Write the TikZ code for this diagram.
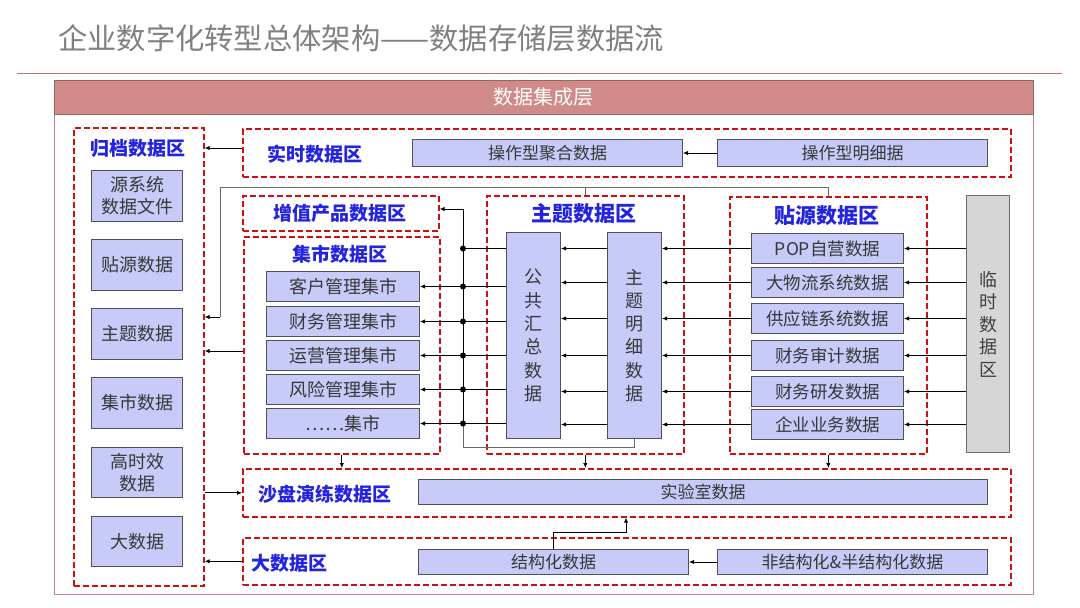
\documentclass[tikz,border=0pt]{standalone}
\usepackage{fontspec}
\setmainfont{Noto Sans CJK SC}
\usetikzlibrary{arrows.meta,calc}
\definecolor{zred}{HTML}{D01010}
\definecolor{zblue}{HTML}{2424E0}
\definecolor{boxfill}{HTML}{C8CBF8}
\definecolor{boxline}{HTML}{50505C}
\definecolor{hdr}{HTML}{D08B88}
\definecolor{hdrline}{HTML}{C97B7D}
\definecolor{ttl}{HTML}{808080}
\definecolor{glc}{HTML}{6A6A6A}
\begin{document}
\begin{tikzpicture}[x=1pt,y=-1pt,
  zone/.style={draw=zred, dash pattern=on 6pt off 3pt, line width=1.7pt, inner sep=0, anchor=north west},
  zonetitle/.style={text=zblue, font=\fontsize{19}{19}\selectfont\bfseries, inner sep=0},
  dbox/.style={draw=boxline, fill=boxfill, line width=1pt, text=black!78, font=\fontsize{17}{17}\selectfont, inner sep=0, anchor=north west},
  abox/.style={dbox, minimum width=91pt, font=\fontsize{18}{22}\selectfont, align=center},
  vbox/.style={dbox, minimum width=54pt, minimum height=206pt, font=\fontsize{18}{23.3}\selectfont, align=center},
  jbox/.style={dbox, minimum width=153pt, minimum height=30pt, font=\fontsize{18}{18}\selectfont},
  tbox/.style={dbox, minimum width=152pt, minimum height=30pt, font=\fontsize{17.5}{17.5}\selectfont},
  arr/.style={-{Latex[length=5pt,width=4.5pt]}, line width=0.9pt, draw=black},
  bline/.style={line width=0.9pt, draw=black},
  gline/.style={line width=0.9pt, draw=glc},
  dot/.style={circle, fill=black, inner sep=0, minimum size=6pt}]
\fill[white] (0,0) rectangle (1080,608);
\useasboundingbox (0,0) rectangle (1080,608);

% title
\node[anchor=west, text=ttl, font=\fontsize{29.3}{29.3}\selectfont, inner sep=0] (title) at (58,38) {企业数字化转型总体架构——数据存储层数据流};
\draw[draw=hdrline!90!red, line width=1pt] (17,73) -- (1062,73);

% frame
\node[draw=hdrline, line width=1pt, minimum width=979pt, minimum height=480pt, anchor=north west, inner sep=0] (body) at (54,114) {};
\node[fill=hdr, draw=hdrline!80!black, line width=0.8pt, minimum width=979pt, minimum height=34pt, anchor=north west, text=white, font=\fontsize{20}{20}\selectfont, inner sep=0] (hdr) at (54,80) {数据集成层};

% archive zone
\node[zone, minimum width=130pt, minimum height=458pt] (arch) at (73,127) {};
\node[zonetitle] (archt) at (138,148) {归档数据区};
\node[abox, minimum height=51pt] (a1) at (91,170) {源系统\\数据文件};
\node[abox, minimum height=51pt] (a2) at (91,239) {贴源数据};
\node[abox, minimum height=51pt] (a3) at (91,308) {主题数据};
\node[abox, minimum height=51pt] (a4) at (91,377) {集市数据};
\node[abox, minimum height=50pt] (a5) at (91,447) {高时效\\数据};
\node[abox, minimum height=50pt] (a6) at (91,516) {大数据};

% realtime zone
\node[zone, minimum width=768pt, minimum height=48pt] (zrt) at (242,128) {};
\node[zonetitle] (zrtt) at (315,154) {实时数据区};
\node[dbox, minimum width=270pt, minimum height=27pt] (agg) at (412,139) {操作型聚合数据};
\node[dbox, minimum width=270pt, minimum height=27pt] (det) at (717,139) {操作型明细据};

% value-added zone
\node[zone, minimum width=196pt, minimum height=35pt] (zzz) at (242,195) {};
\node[zonetitle] (zzzt) at (340,213) {增值产品数据区};

% mart zone
\node[zone, minimum width=196pt, minimum height=217pt] (zjs) at (243,236) {};
\node[zonetitle] (zjst) at (340,254) {集市数据区};
\node[jbox] (j1) at (266,271) {客户管理集市};
\node[jbox] (j2) at (266,306) {财务管理集市};
\node[jbox] (j3) at (266,340) {运营管理集市};
\node[jbox] (j4) at (266,374) {风险管理集市};
\node[jbox] (j5) at (266,408) {……集市};

% subject zone
\node[zone, minimum width=197pt, minimum height=258pt] (zzt) at (486,195) {};
\node[zonetitle, font=\fontsize{21}{21}\selectfont\bfseries] (zztt) at (584,214) {主题数据区};
\node[vbox] (gg) at (506,232) {公\\共\\汇\\总\\数\\据};
\node[vbox] (zm) at (607,232) {主\\题\\明\\细\\数\\据};

% source zone
\node[zone, minimum width=197pt, minimum height=257pt] (zty) at (729,196) {};
\node[zonetitle, font=\fontsize{21}{21}\selectfont\bfseries] (ztyt) at (827,216) {贴源数据区};
\node[tbox] (t1) at (751,233) {POP自营数据};
\node[tbox] (t2) at (751,267) {大物流系统数据};
\node[tbox] (t3) at (751,303) {供应链系统数据};
\node[tbox] (t4) at (751,340) {财务审计数据};
\node[tbox] (t5) at (751,376) {财务研发数据};
\node[tbox] (t6) at (751,409) {企业业务数据};

% temp zone
\node[draw=glc, fill=black!16, line width=1pt, minimum width=43pt, minimum height=257pt, anchor=north west, inner sep=0, text=black!75, font=\fontsize{18}{22.5}\selectfont, align=center] (lin) at (966,195) {临\\时\\数\\据\\区};

% sandbox zone
\node[zone, minimum width=768pt, minimum height=48pt] (zsp) at (242,468) {};
\node[zonetitle] (zspt) at (325,494) {沙盘演练数据区};
\node[dbox, minimum width=569pt, minimum height=25pt] (lab) at (418,479) {实验室数据};

% big data zone
\node[zone, minimum width=768pt, minimum height=47pt] (zbd) at (242,537) {};
\node[zonetitle] (zbdt) at (289,563) {大数据区};
\node[dbox, minimum width=270pt, minimum height=25pt] (jg) at (418,549) {结构化数据};
\node[dbox, minimum width=270pt, minimum height=25pt] (fjg) at (717,549) {非结构化\&半结构化数据};

% ---- connectors ----
\coordinate (bL) at (220,187);
\coordinate (bLd) at (220,317);
\coordinate (c351) at (243,351);
\coordinate (bus) at (463,209);
\coordinate (bb) at (463,447);
\coordinate (up) at (626,532);

\draw[arr] (det.west) -- (agg.east);
\draw[arr] (zrt.west |- archt) -- (arch.east |- archt);

% gray feed lines to archive
\draw[gline] (zty.north) -- (zty.north |- bL) -- (bL);
\draw[gline] (zzt.north) -- (zzt.north |- bL);
\draw[gline] (bL) -- (bLd);
\draw[arr] (bLd) -- (bLd -| arch.east);
\draw[arr] (zjs.west |- c351) -- (arch.east |- c351);
\draw[arr] (arch.east |- zsp.west) -- (zsp.west);
\draw[arr] (zbd.west) -- (arch.east |- zbd.west);

% down to sandbox
\draw[arr] (zjs.south) -- (zjs.south |- zsp.north);
\draw[arr] (zzt.south) -- (zzt.south |- zsp.north);
\draw[arr] (zty.south) -- (zty.south |- zsp.north);

% big data
\draw[arr] (fjg.west) -- (jg.east);
\draw[arr] (jg.north) |- (up) -- (up |- zsp.south);

% temp -> source, source -> subject detail, detail -> summary
\foreach \t in {t1,t2,t3,t4,t5,t6}{
  \draw[arr] (lin.west |- \t.east) -- (\t.east);
  \draw[arr] (\t.west) -- (zm.east |- \t.west);
  \draw[arr] (zm.west |- \t.west) -- (gg.east |- \t.west);
}

% summary -> bus -> value-added / marts
\draw[gline] (zm.south) |- (bb) -- (bb |- j5.east);
\draw[bline] (gg.west |- t1.west) -- (bus |- t1.west);
\draw[arr] (bus |- j5.east) -- (bus) -- (bus -| zzz.east);
\node[dot] (d0) at (bus |- t1.west) {};
\foreach \j/\n in {j1/d1,j2/d2,j3/d3,j4/d4,j5/d5}{
  \draw[arr] (gg.west |- \j.east) -- (\j.east);
  \node[dot] (\n) at (bus |- \j.east) {};
}
\end{tikzpicture}
\end{document}
